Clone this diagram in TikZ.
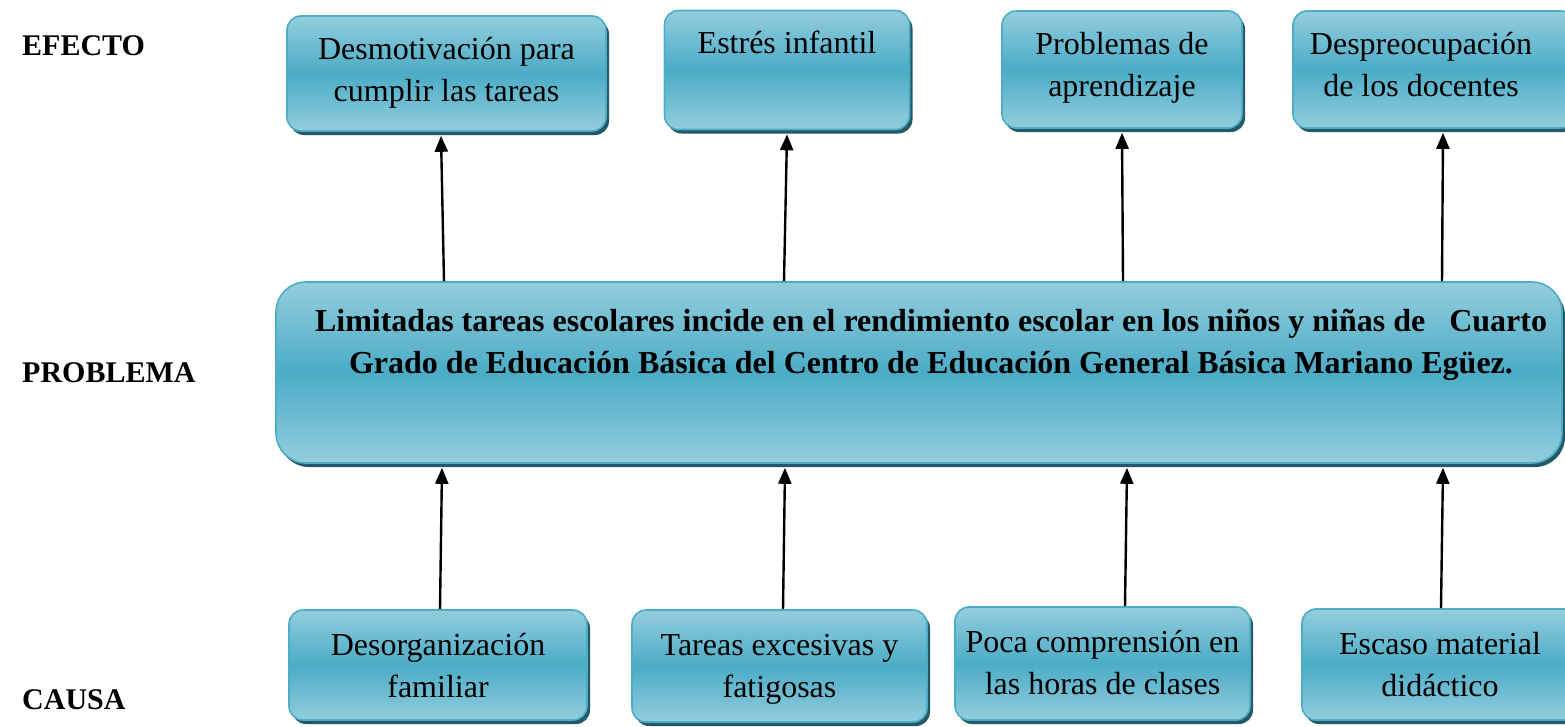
\documentclass[tikz,border=0pt]{standalone}
\usepackage{fontspec}
\setmainfont{Liberation Serif}
\usetikzlibrary{arrows.meta,shadows,calc}
\definecolor{lightb}{HTML}{93CDDD}
\definecolor{darkb}{HTML}{4BACC6}
\definecolor{edgeb}{HTML}{4DADC7}
\definecolor{shadowb}{HTML}{245A68}
\tikzset{
  boxbase/.style={draw=edgeb, line width=1.6pt, top color=lightb, bottom color=lightb, middle color=darkb,
    general shadow={fill=shadowb, shadow xshift=3pt, shadow yshift=-4pt}, inner sep=0pt},
  smallbox/.style={boxbase, rounded corners=14pt},
  bigbox/.style={boxbase, rounded corners=30pt},
  boxtext/.style={anchor=north, inner sep=0pt, align=center, font=\fontsize{32}{42}\selectfont},
  probtext/.style={anchor=north, inner sep=0pt, align=center, font=\fontsize{32}{42}\selectfont\bfseries},
  sidelabel/.style={anchor=base west, inner sep=0pt, font=\fontsize{30}{35}\selectfont\bfseries},
  arr/.style={line width=2.4pt, -{Triangle[length=16pt,width=13pt]}},
}
\newcommand{\fl}{\rule{0pt}{32pt}}
\begin{document}
\begin{tikzpicture}[x=1pt,y=1pt]
\useasboundingbox (0,0) rectangle (1565,-726);
% effect boxes
\node[smallbox, minimum width=319pt, minimum height=115pt] (e1) at (446.5,-73.5) {};
\node[smallbox, minimum width=245pt, minimum height=119pt] (e2) at (787,-70) {};
\node[smallbox, minimum width=240pt, minimum height=117pt] (e3) at (1122,-69.5) {};
\node[smallbox, minimum width=282pt, minimum height=117pt] (e4) at (1434,-69.5) {};
% problem box
\node[bigbox, minimum width=1286pt, minimum height=181pt] (prob) at (919,-372.5) {};
% cause boxes
\node[smallbox, minimum width=298pt, minimum height=110pt] (c1) at (438,-665) {};
\node[smallbox, minimum width=295pt, minimum height=112pt] (c2) at (779.5,-666) {};
\node[smallbox, minimum width=295pt, minimum height=113pt] (c3) at (1102.5,-663.5) {};
\node[smallbox, minimum width=278pt, minimum height=111pt] (c4) at (1441,-664.5) {};
% texts
\node[boxtext] (e1t) at ($(e1.north)+(0,-12)$) {\fl Desmotivación para\\cumplir las tareas};
\node[boxtext] (e2t) at ($(e2.north)+(0,-12)$) {\fl Estrés infantil};
\node[boxtext] (e3t) at ($(e3.north)+(0,-12)$) {\fl Problemas de\\aprendizaje};
\node[boxtext] (e4t) at ($(e4.north)+(-13,-12)$) {\fl Despreocupación\\de los docentes};
\node[probtext] (probt) at (931,-299) {\fl Limitadas tareas escolares incide en el rendimiento escolar en los niños y niñas de \ \ Cuarto\\Grado de Educación Básica del Centro de Educación General Básica Mariano Egüez.};
\node[boxtext] (c1t) at ($(c1.north)+(0,-14)$) {\fl Desorganización\\familiar};
\node[boxtext] (c2t) at ($(c2.north)+(0,-14)$) {\fl Tareas excesivas y\\fatigosas};
\node[boxtext] (c3t) at ($(c3.north)+(0,-14)$) {\fl Poca comprensión en\\las horas de clases};
\node[boxtext] (c4t) at ($(c4.north)+(-1,-14)$) {\fl Escaso material\\didáctico};
% side labels
\node[sidelabel] (lef) at (22,-55) {EFECTO};
\node[sidelabel] (lpr) at (22,-382) {PROBLEMA};
\node[sidelabel] (lca) at (22,-709) {CAUSA};
% arrow x positions
\coordinate (ea1) at (444,0); \coordinate (eb1) at (441,0);
\coordinate (ea2) at (784,0); \coordinate (eb2) at (787,0);
\coordinate (ea3) at (1123,0); \coordinate (eb3) at (1122,0);
\coordinate (ea4) at (1442,0); \coordinate (eb4) at (1443,0);
\coordinate (ca1) at (440,0); \coordinate (cb1) at (442,0);
\coordinate (ca2) at (783,0); \coordinate (cb2) at (785,0);
\coordinate (ca3) at (1125,0); \coordinate (cb3) at (1127,0);
\coordinate (ca4) at (1441,0); \coordinate (cb4) at (1443,0);
% effect arrows
\draw[arr] (prob.north -| ea1) -- ($(e1.south -| eb1)+(0,-4)$);
\draw[arr] (prob.north -| ea2) -- ($(e2.south -| eb2)+(0,-4)$);
\draw[arr] (prob.north -| ea3) -- ($(e3.south -| eb3)+(0,-4)$);
\draw[arr] (prob.north -| ea4) -- ($(e4.south -| eb4)+(0,-4)$);
% cause arrows
\draw[arr] (c1.north -| ca1) -- ($(prob.south -| cb1)+(0,-4)$);
\draw[arr] (c2.north -| ca2) -- ($(prob.south -| cb2)+(0,-4)$);
\draw[arr] (c3.north -| ca3) -- ($(prob.south -| cb3)+(0,-4)$);
\draw[arr] (c4.north -| ca4) -- ($(prob.south -| cb4)+(0,-4)$);
\end{tikzpicture}
\end{document}
